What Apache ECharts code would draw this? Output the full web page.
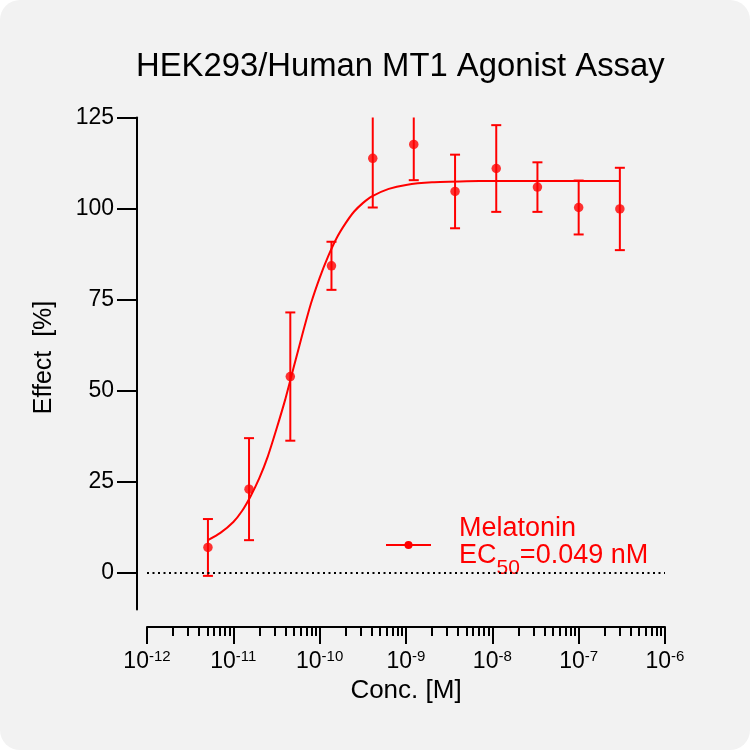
<!DOCTYPE html>
<html>
<head>
<meta charset="utf-8">
<title>HEK293/Human MT1 Agonist Assay</title>
<script src="https://cdn.jsdelivr.net/npm/echarts@6.0.0/dist/echarts.min.js"></script>
<style>
  html, body { margin: 0; padding: 0; background: #ffffff; }
  #chart { width: 750px; height: 750px; background: #f2f2f2; border-radius: 20px; }
</style>
</head>
<body>
<div id="chart"></div>
<script>
// 数据：浓度 (M)，平均效应 (%)，误差 (%)
const concM = [5.08e-12, 1.52e-11, 4.57e-11, 1.37e-10, 4.12e-10, 1.23e-9, 3.70e-9, 1.11e-8, 3.33e-8, 1.0e-7, 3.0e-7]
const meanEffect = [7.0, 23.0, 53.9, 84.3, 113.8, 117.6, 104.7, 111.0, 105.9, 100.3, 99.9]
const errEffect = [7.8, 14.0, 17.6, 6.6, 13.5, 9.8, 10.1, 11.9, 6.8, 7.4, 11.3]

// 拟合曲线
const fitConc = [5.08e-12, 7.08e-12, 1e-11, 1.26e-11, 1.58e-11, 2.0e-11, 2.51e-11, 3.16e-11, 3.98e-11, 5.01e-11, 6.31e-11,
  7.94e-11, 1e-10, 1.26e-10, 1.58e-10, 2.0e-10, 2.51e-10, 3.16e-10, 3.98e-10, 6.31e-10, 1e-9, 2e-9, 5e-9, 1e-8, 3e-7]
const fitEffect = [9.0, 11.0, 14.0, 17.0, 21.0, 26.0, 32.0, 39.5, 47.5, 56.5, 65.5,
  74.0, 81.0, 87.0, 92.0, 96.0, 99.2, 101.5, 103.3, 105.4, 106.5, 107.2, 107.5, 107.6, 107.6]

// 刻度
const yTicks = [0, 25, 50, 75, 100, 125]
const xTickExps = ['-12', '-11', '-10', '-9', '-8', '-7', '-6']
const minorMultipliers = [2, 3, 4, 5, 6, 7, 8, 9]

const minorTicks = []
for (let d = -12; d < -6; d++) {
  minorMultipliers.forEach(k => minorTicks.push(k * Math.pow(10, d)))
}

const RED = '#ff0000'
const FONT = 'Arial, "Liberation Sans", sans-serif'

const myChart = echarts.init(document.getElementById('chart'))

myChart.setOption({
  backgroundColor: 'transparent',
  animation: false,
  textStyle: { fontFamily: FONT, color: '#000' },
  title: {
    text: 'HEK293/Human MT1 Agonist Assay',
    left: 136,
    top: 50,
    padding: 0,
    textStyle: { fontFamily: FONT, fontSize: 32.8, fontWeight: 'normal', color: '#000' }
  },
  grid: { left: 147, right: 85, top: 117.5, bottom: 140.6, outerBoundsMode: 'none' },
  legend: {
    data: ['Melatonin'],
    left: 385,
    top: 515,
    padding: 0,
    itemWidth: 45,
    itemHeight: 10,
    formatter: () => '{a|Melatonin}\n{a|EC}{s|50}{a|=0.049 nM}',
    textStyle: {
      color: RED,
      fontFamily: FONT,
      padding: [0, 0, 6, 23],
      rich: {
        a: { fontSize: 27, lineHeight: 27, color: RED, fontFamily: FONT },
        s: { fontSize: 21, lineHeight: 2, verticalAlign: 'bottom', padding: [0, 0, -10, 0], color: RED, fontFamily: FONT }
      }
    }
  },
  xAxis: [
    {
      type: 'log',
      logBase: 10,
      min: 1e-12,
      max: 1e-6,
      splitNumber: 6,
      position: 'bottom',
      offset: 17.5,
      name: 'Conc. [M]',
      nameLocation: 'middle',
      nameGap: 50,
      nameTextStyle: { fontSize: 26, color: '#000', fontFamily: FONT },
      axisLine: { onZero: false, lineStyle: { color: '#000', width: 2 } },
      axisTick: { length: 17, lineStyle: { color: '#000', width: 2 } },
      splitLine: { show: false },
      minorTick: { show: false },
      axisLabel: {
        margin: 22,
        formatter: (v, i) => '{b|10}{p|' + xTickExps[i] + '}',
        rich: {
          b: { fontSize: 23, lineHeight: 26, color: '#000', fontFamily: FONT },
          p: { fontSize: 15, lineHeight: 15, verticalAlign: 'top', color: '#000', fontFamily: FONT }
        }
      }
    },
    {
      // 次刻度
      type: 'log',
      logBase: 10,
      min: 1e-12,
      max: 1e-6,
      position: 'bottom',
      offset: 17.5,
      axisLine: { show: false, onZero: false },
      axisLabel: { show: false },
      splitLine: { show: false },
      axisTick: { length: 9, customValues: minorTicks, lineStyle: { color: '#000', width: 2 } }
    }
  ],
  yAxis: {
    type: 'value',
    min: -10,
    max: 125,
    offset: 10,
    name: 'Effect  [%]',
    nameLocation: 'middle',
    nameGap: 80,
    nameTextStyle: { fontSize: 25, color: '#000', fontFamily: FONT, padding: [0, 0, 0, 12] },
    axisLine: { show: true, onZero: false, lineStyle: { color: '#000', width: 2 } },
    axisTick: { show: true, length: 20, customValues: yTicks, lineStyle: { color: '#000', width: 2 } },
    axisLabel: { customValues: yTicks, margin: 23, fontSize: 23, color: '#000', fontFamily: FONT },
    splitLine: { show: false }
  },
  series: [
    {
      name: 'Melatonin',
      type: 'line',
      data: fitConc.map((c, i) => [c, fitEffect[i]]),
      smooth: 0.2,
      symbol: 'circle',
      symbolSize: 9,
      showSymbol: false,
      itemStyle: { color: RED },
      lineStyle: { color: RED, width: 2 },
      z: 2
    },
    {
      // 误差线
      name: 'err',
      type: 'custom',
      data: concM.map((c, i) => [c, meanEffect[i], errEffect[i]]),
      encode: { x: 0, y: 1 },
      renderItem: (params, api) => {
        const x = api.value(0)
        const m = api.value(1)
        const e = api.value(2)
        const top = api.coord([x, m + e])
        const bot = api.coord([x, m - e])
        const yMin = params.coordSys.y
        const ty = Math.max(top[1], yMin)
        const style = { stroke: RED, lineWidth: 2 }
        const children = [
          { type: 'line', shape: { x1: top[0], y1: ty, x2: bot[0], y2: bot[1] }, style },
          { type: 'line', shape: { x1: bot[0] - 5, y1: bot[1], x2: bot[0] + 5, y2: bot[1] }, style }
        ]
        if (top[1] >= yMin) {
          children.push({ type: 'line', shape: { x1: top[0] - 5, y1: top[1], x2: top[0] + 5, y2: top[1] }, style })
        }
        return { type: 'group', children }
      },
      z: 3
    },
    {
      name: 'points',
      type: 'scatter',
      data: concM.map((c, i) => [c, meanEffect[i]]),
      symbol: 'circle',
      symbolSize: 9.5,
      itemStyle: { color: RED },
      z: 4,
      markLine: {
        silent: true,
        symbol: 'none',
        label: { show: false },
        lineStyle: { color: '#000', width: 2, type: [2, 3.5] },
        data: [{ yAxis: 0 }]
      }
    }
  ]
})
</script>
</body>
</html>
